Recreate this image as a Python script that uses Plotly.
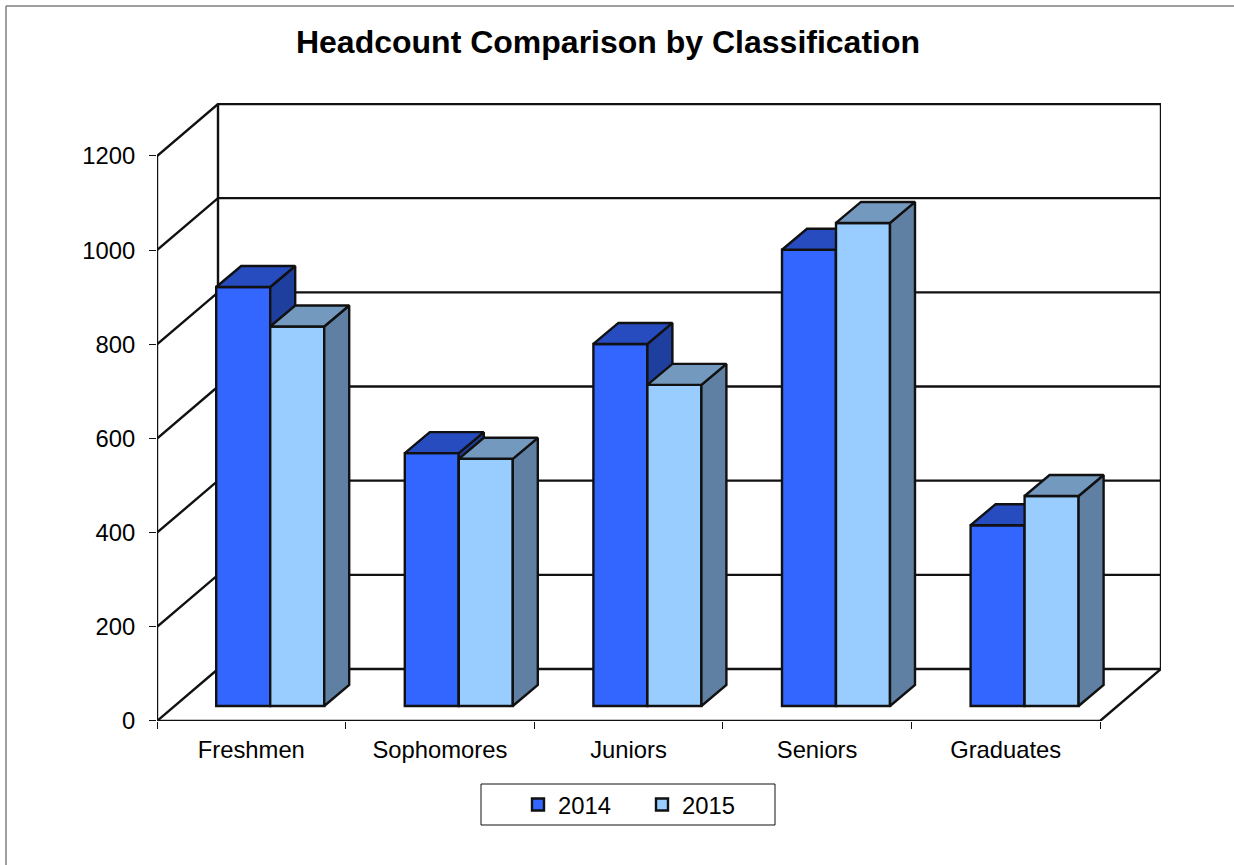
import plotly.graph_objects as go

categories = ["Freshmen", "Sophomores", "Juniors", "Seniors", "Graduates"]
values_2014 = [890, 537, 769, 969, 384]
values_2015 = [806, 525, 682, 1026, 446]
y_ticks = [0, 200, 400, 600, 800, 1000, 1200]

W, H = 1234, 865
X0_PX, X1_PX = 157, 1100      # front floor edge
Y0_PX, YT_PX = 721, 156       # value 0 and value 1200 on the front edge
UX = (X1_PX - X0_PX) / len(categories)   # px per category
UY = (Y0_PX - YT_PX) / 1200              # px per value
DX, DY = 61 / UX, 52 / UY                # depth of the walls
BX, BY = 25 / UX, 21 / UY                # depth of a bar
BASE = 15 / UY                           # bar floor lift
BAR_OFF, BAR_W = 59.2 / UX, 54 / UX      # start and width of a bar

x_max = len(categories) + DX
y_max = 1200 + DY + 2

FONT = "Liberation Sans, Arial, sans-serif"
LINE = dict(color="#111111", width=2.4)
fig = go.Figure()

# walls and floor on the base subplot, under every bar
wx, wy = [], []
for v in y_ticks:
    wx += [0, DX, x_max, None]
    wy += [v, v + DY, v + DY, None]
wx += [DX, DX, None, x_max, x_max, len(categories), 0, 0]
wy += [DY, 1200 + DY, None, 1200 + DY, DY, 0, 0, 1200]
fig.add_trace(go.Scatter(x=wx, y=wy, mode="lines", line=LINE, showlegend=False,
                         hoverinfo="skip", cliponaxis=False))


def add_series(name, values, slot, front, top, side, xa, ya):
    xs = [i + BAR_OFF + slot * BAR_W for i in range(len(values))]
    fig.add_trace(go.Bar(x=[x + BAR_W / 2 for x in xs], y=values, base=[BASE] * len(values),
                         width=BAR_W, name=name, marker=dict(color=front, line=LINE),
                         xaxis=xa, yaxis=ya, cliponaxis=False))
    tx, ty, sx, sy = [], [], [], []
    for x, v in zip(xs, values):
        t = v + BASE
        tx += [x, x + BX, x + BAR_W + BX, x + BAR_W, x, None]
        ty += [t, t + BY, t + BY, t, t, None]
        sx += [x + BAR_W, x + BAR_W + BX, x + BAR_W + BX, x + BAR_W, x + BAR_W, None]
        sy += [t, t + BY, BASE + BY, BASE, t, None]
    for px, py, col in ((sx, sy, side), (tx, ty, top)):
        fig.add_trace(go.Scatter(x=px, y=py, mode="lines", fill="toself", fillcolor=col,
                                 line=LINE, showlegend=False,
                                 hoverinfo="skip", xaxis=xa, yaxis=ya, cliponaxis=False))


add_series("2014", values_2014, 0, "#3366FF", "#264CBF", "#1F3F9E", "x2", "y2")
add_series("2015", values_2015, 1, "#99CCFF", "#7399BF", "#5F7FA3", "x3", "y3")

dom_x = [X0_PX / W, (X0_PX + x_max * UX) / W]
dom_y = [1 - Y0_PX / H, 1 - (Y0_PX - y_max * UY) / H]
tick_font = dict(family=FONT, size=23.8, color="black")

fig.update_layout(
    width=W, height=H, autosize=False,
    margin=dict(l=0, r=0, t=0, b=0),
    paper_bgcolor="white", plot_bgcolor="rgba(0,0,0,0)",
    barmode="overlay",
    title=dict(text="<b>Headcount Comparison by Classification</b>",
               font=dict(family=FONT, size=32, color="black"),
               x=608 / W, xanchor="center", xref="paper",
               y=1 - 42 / H, yanchor="middle", yref="container"),
    xaxis=dict(domain=dom_x, range=[0, x_max], showgrid=False, zeroline=False, showline=False,
               automargin=False,
               tickmode="array", tickvals=[i + 0.5 for i in range(len(categories))],
               ticktext=categories, ticks="", tickfont=tick_font, ticklabelstandoff=12,
               minor=dict(tickmode="array", tickvals=list(range(len(categories) + 1)),
                          ticks="outside", ticklen=7, tickwidth=1, tickcolor="#111111",
                          showgrid=False)),
    yaxis=dict(domain=dom_y, range=[0, y_max], showgrid=False, zeroline=False, showline=False,
               automargin=False,
               tickmode="array", tickvals=y_ticks, ticks="outside", ticklen=7, tickwidth=1,
               tickcolor="#111111", tickfont=tick_font, ticklabelstandoff=9),
    xaxis2=dict(domain=dom_x, range=[0, x_max], overlaying="x", visible=False, automargin=False),
    yaxis2=dict(domain=dom_y, range=[0, y_max], overlaying="y", visible=False, automargin=False),
    xaxis3=dict(domain=dom_x, range=[0, x_max], overlaying="x", visible=False, automargin=False),
    yaxis3=dict(domain=dom_y, range=[0, y_max], overlaying="y", visible=False, automargin=False),
    legend=dict(orientation="h",
                x=518 / W, xanchor="left", y=1 - 804.5 / H, yanchor="middle",
                font=dict(family=FONT, size=23.8, color="black"), bgcolor="rgba(0,0,0,0)",
                entrywidthmode="pixels", entrywidth=79, borderwidth=0, traceorder="normal"),
    shapes=[
        dict(type="rect", xref="paper", yref="paper", x0=481 / W, x1=775 / W,
             y0=1 - 825 / H, y1=1 - 784 / H, line=dict(color="#111111", width=1)),
        dict(type="line", xref="paper", yref="paper", x0=6 / W, x1=6 / W, y0=0, y1=1 - 6 / H,
             line=dict(color="#7f7f7f", width=1.5)),
        dict(type="line", xref="paper", yref="paper", x0=6 / W, x1=1, y0=1 - 6 / H, y1=1 - 6 / H,
             line=dict(color="#7f7f7f", width=1.5)),
    ],
)

fig.write_html("out.html", config={"displayModeBar": False},
               post_script="document.body.style.margin='0';document.body.style.overflow='hidden';")
